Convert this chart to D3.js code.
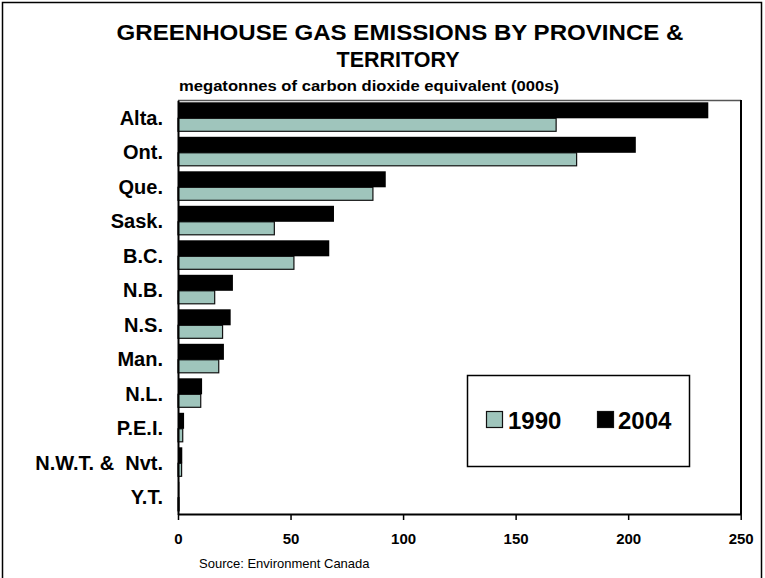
<!DOCTYPE html>
<html>
<head>
<meta charset="utf-8">
<script src="https://cdn.jsdelivr.net/npm/d3@7"></script>
<style>
  html, body { margin: 0; padding: 0; background: #fff; }
  svg { display: block; font-family: Arial, "Liberation Sans", sans-serif; }
</style>
</head>
<body>
<svg id="chart" width="765" height="578"></svg>
<script>
const categories = ["Alta.", "Ont.", "Que.", "Sask.", "B.C.", "N.B.", "N.S.", "Man.", "N.L.", "P.E.I.", "N.W.T. &\u00a0 Nvt.", "Y.T."];
const values1990 = [168.0, 177.1, 86.6, 42.8, 51.5, 16.3, 19.8, 18.1, 10.1, 2.1, 1.6, 0.5];
const values2004 = [235.6, 203.4, 92.3, 69.3, 67.2, 24.4, 23.4, 20.4, 10.7, 2.7, 1.9, 0.6];
const seriesNames = ["1990", "2004"];
const xTicks = [0, 50, 100, 150, 200, 250];

const colors = { "1990": "#9fc5bc", "2004": "#000000" };
const FONT = "Arial, 'Liberation Sans', sans-serif";

const svg = d3.select("#chart");

// outer frame
svg.append("rect")
  .attr("x", 2.5).attr("y", 2.5).attr("width", 759).attr("height", 620)
  .attr("fill", "none").attr("stroke", "#000").attr("stroke-width", 1.5);

// titles
svg.append("text").attr("x", 400).attr("y", 40).attr("text-anchor", "middle")
  .attr("font-size", 22).attr("font-weight", "bold")
  .attr("textLength", 567).attr("lengthAdjust", "spacingAndGlyphs")
  .text("GREENHOUSE GAS EMISSIONS BY PROVINCE &");
svg.append("text").attr("x", 398).attr("y", 67).attr("text-anchor", "middle")
  .attr("font-size", 22).attr("font-weight", "bold")
  .attr("textLength", 123).attr("lengthAdjust", "spacingAndGlyphs")
  .text("TERRITORY");
svg.append("text").attr("x", 179).attr("y", 91).attr("text-anchor", "start")
  .attr("font-size", 14).attr("font-weight", "bold")
  .attr("textLength", 380).attr("lengthAdjust", "spacingAndGlyphs")
  .text("megatonnes of carbon dioxide equivalent (000s)");

const x = d3.scaleLinear().domain([0, 250]).range([178, 740.7]);
const y = d3.scaleBand().domain(categories).range([100.3, 514.3]).paddingInner(0).paddingOuter(0);

// plot area border: top gray, right black
svg.append("line").attr("x1", 178).attr("x2", 741).attr("y1", 100.5).attr("y2", 100.5)
  .attr("stroke", "#555").attr("stroke-width", 1.5);
svg.append("line").attr("x1", 741).attr("x2", 741).attr("y1", 100).attr("y2", 514)
  .attr("stroke", "#000").attr("stroke-width", 2);

const data = categories.map((c, i) => ({ cat: c, v1990: values1990[i], v2004: values2004[i] }));

// 1990 bars (below)
svg.append("g").selectAll("rect").data(data).join("rect")
  .attr("x", x(0))
  .attr("y", d => y(d.cat) + 18)
  .attr("width", d => x(d.v1990) - x(0))
  .attr("height", 13)
  .attr("fill", colors["1990"])
  .attr("stroke", "#111").attr("stroke-width", 1.2);

// 2004 bars (above)
svg.append("g").selectAll("rect").data(data).join("rect")
  .attr("x", x(0))
  .attr("y", d => y(d.cat) + 2)
  .attr("width", d => x(d.v2004) - x(0))
  .attr("height", 16)
  .attr("fill", colors["2004"]);

// x axis
const xAxis = d3.axisBottom(x).tickValues(xTicks).tickSize(6).tickSizeOuter(0).tickFormat(d3.format("d"));
const gx = svg.append("g").attr("transform", "translate(0,514)").call(xAxis);
gx.select(".domain").attr("stroke", "#000").attr("stroke-width", 2);
gx.selectAll(".tick line").attr("stroke", "#000").attr("stroke-width", 1.5);
gx.selectAll(".tick text").attr("font-size", 15).attr("font-weight", "bold")
  .attr("font-family", FONT).attr("fill", "#000")
  .attr("y", 30).attr("dy", 0);

// y axis (no ticks)
const yAxis = d3.axisLeft(y).tickSize(0).tickPadding(15);
const gy = svg.append("g").attr("transform", "translate(178,0)").call(yAxis);
gy.select(".domain").attr("stroke", "#000").attr("stroke-width", 2);
gy.selectAll(".tick text").attr("font-size", 20).attr("font-weight", "bold")
  .attr("font-family", FONT).attr("fill", "#000")
  .attr("y", 0).attr("dy", "0.36em");
gy.selectAll(".tick").attr("transform", d => `translate(0,${y(d) + 17})`);

// source
svg.append("text").attr("x", 199).attr("y", 568).attr("font-size", 13)
  .text("Source: Environment Canada");

// legend
const lg = svg.append("g");
lg.append("rect").attr("x", 467.5).attr("y", 375.5).attr("width", 222).attr("height", 91)
  .attr("fill", "#fff").attr("stroke", "#000").attr("stroke-width", 1.5);
const legendItems = [
  { name: seriesNames[0], sx: 486, tx: 508 },
  { name: seriesNames[1], sx: 597, tx: 618 }
];
legendItems.forEach(it => {
  lg.append("rect").attr("x", it.sx + 0.5).attr("y", 411.5).attr("width", 16).attr("height", 16)
    .attr("fill", colors[it.name]).attr("stroke", "#111").attr("stroke-width", 1.2);
  lg.append("text").attr("x", it.tx).attr("y", 429).attr("font-size", 24).attr("font-weight", "bold")
    .text(it.name);
});
</script>
</body>
</html>
